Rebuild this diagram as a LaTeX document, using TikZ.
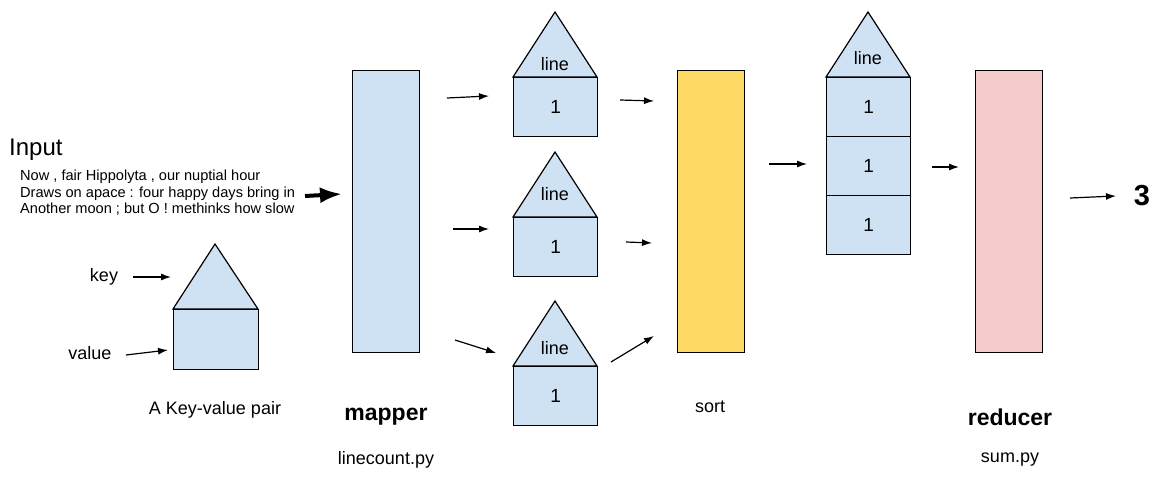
\documentclass[tikz,border=0pt]{standalone}
\usepackage{fontspec}
\setmainfont{Liberation Sans}
\usetikzlibrary{arrows.meta}
\definecolor{lblue}{RGB}{207,226,243}
\definecolor{lyellow}{RGB}{255,217,102}
\definecolor{lpink}{RGB}{244,204,204}
\newcommand\fsz[1]{\fontsize{#1}{#1}\selectfont}
\tikzset{
  outl/.style={draw=black, line width=1.2pt},
  valbox/.style={outl, fill=lblue, anchor=north west, inner sep=0pt, font=\fsz{19}},
  tri/.style={outl, fill=lblue, line join=miter},
  col/.style={outl, anchor=north west, inner sep=0pt, minimum width=67pt, minimum height=282pt},
  arr/.style={line width=1.2pt, -{Latex[length=10pt,width=7pt]}},
  lab/.style={font=\fsz{18}, inner sep=0pt},
  big/.style={font=\bfseries\fsz{23}, inner sep=0pt},
}
\begin{document}
\begin{tikzpicture}[x=1pt,y=-1pt]
\useasboundingbox (0,0) rectangle (1163,495);
% input
\node[font=\fsz{24}, anchor=west, inner sep=0pt] (input) at (9,150) {Input};
\node[font=\fontsize{14.6}{16.5}\selectfont, anchor=north west, inner sep=0pt, align=left] (text) at (20,170)
  {Now , fair Hippolyta , our nuptial hour\\Draws on apace : four happy days bring in\\Another moon ; but O ! methinks how slow};
\coordinate (ins) at (305,196);
\coordinate (ine) at (342,194);
\draw[line width=4pt, -{Latex[length=22pt,width=16pt]}] (ins) -- (ine);
% key-value legend
\draw[tri] (173,309) -- (215,244) -- (258,309) -- cycle;
\node[valbox, minimum width=85pt, minimum height=60pt] (kv) at (173,309) {};
\node[lab] (key) at (104,277) {key};
\node[lab] (value) at (90,353) {value};
\coordinate (ks) at (133,277); \coordinate (ke) at (171,277);
\coordinate (vs) at (126,355); \coordinate (ve) at (168,350);
\draw[arr] (ks) -- (ke);
\draw[arr] (vs) -- (ve);
\node[lab] (kvl) at (215,410) {A Key-value pair};
% mapper
\node[col, fill=lblue] (mapper) at (352,70) {};
\node[big] (mapl) at (386,417) {mapper};
\node[lab] (mapf) at (386,460) {linecount.py};
% houses
\draw[tri] (513,77) -- (555,12) -- (597,77) -- cycle;
\node[lab] (l1) at (555,64) {line};
\node[valbox, minimum width=84pt, minimum height=59pt] (v1) at (513,77) {1};
\draw[tri] (513,217) -- (555,152) -- (597,217) -- cycle;
\node[lab] (l2) at (555,194) {line};
\node[valbox, minimum width=84pt, minimum height=59pt] (v2) at (513,217) {1};
\draw[tri] (513,366) -- (555,301) -- (597,366) -- cycle;
\node[lab] (l3) at (555,348) {line};
\node[valbox, minimum width=84pt, minimum height=59pt] (v3) at (513,366) {1};
% mapper -> houses
\coordinate (m1s) at (447,98);  \coordinate (m1e) at (489,96);
\coordinate (m2s) at (453,229); \coordinate (m2e) at (489,229);
\coordinate (m3s) at (455,340); \coordinate (m3e) at (496,353);
\draw[arr] (m1s) -- (m1e);
\draw[arr] (m2s) -- (m2e);
\draw[arr] (m3s) -- (m3e);
% houses -> sort
\coordinate (s1s) at (620,100); \coordinate (s1e) at (654,101);
\coordinate (s2s) at (626,242); \coordinate (s2e) at (652,243);
\coordinate (s3s) at (611,362); \coordinate (s3e) at (654,336);
\draw[arr] (s1s) -- (s1e);
\draw[arr] (s2s) -- (s2e);
\draw[arr] (s3s) -- (s3e);
% sort
\node[col, fill=lyellow] (sort) at (677,70) {};
\node[lab] (sortl) at (710,407) {sort};
\coordinate (t1s) at (769,164); \coordinate (t1e) at (807,164);
\draw[arr] (t1s) -- (t1e);
% stacked house
\draw[tri] (826,77) -- (868,12) -- (910,77) -- cycle;
\node[lab] (l4) at (868,58) {line};
\node[valbox, minimum width=84pt, minimum height=59pt] (w1) at (826,77) {1};
\node[valbox, minimum width=84pt, minimum height=59pt] (w2) at (826,136) {1};
\node[valbox, minimum width=84pt, minimum height=59pt] (w3) at (826,195) {1};
\coordinate (u1s) at (932,167); \coordinate (u1e) at (959,167);
\draw[arr] (u1s) -- (u1e);
% reducer
\node[col, fill=lpink] (reducer) at (975,70) {};
\node[big] (redl) at (1010,417) {reducer};
\node[lab] (redf) at (1010,460) {sum.py};
\coordinate (r1s) at (1070,198); \coordinate (r1e) at (1116,196);
\draw[arr] (r1s) -- (r1e);
\node[font=\bfseries\fsz{29}, inner sep=0pt] (res) at (1142,196) {3};
\end{tikzpicture}
\end{document}
